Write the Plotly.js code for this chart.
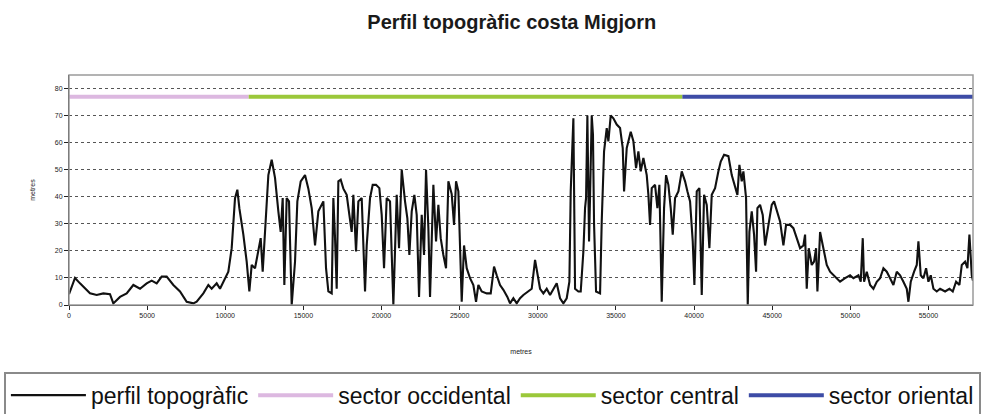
<!DOCTYPE html>
<html>
<head>
<meta charset="utf-8">
<script src="https://cdn.plot.ly/plotly-3.0.1.min.js"></script>
<style>html,body{margin:0;padding:0;background:#fff;}#chart{width:988px;height:414px;}</style>
</head>
<body>
<div id="chart"></div>
<script>
// Profile distance (m) and elevation (m)
const profileX = [0,384,704,1024,1344,1771,2197,2624,2837,3264,3691,4117,4544,4971,5291,5611,5931,6251,6677,7104,7531,7957,
8171,8597,8917,9131,9451,9664,9877,10197,10411,10624,10773,10901,11157,11371,11541,11691,11904,12117,12267,12395,12544,12757,12971,13184,13397,13547,13675,13781,13931,14080,14251,14464,14613,14827,15104,15317,15531,15744,15957,16277,16448,
16597,16811,16917,17024,17131,17237,17387,17557,17771,17941,18091,18197,18368,18517,18731,18944,19051,19264,19435,19648,19861,20011,20160,20331,20544,20757,20971,21120,21291,21504,21653,21781,21931,22101,22251,22400,22571,22720,22848,22997,23104,23317,23488,23637,23787,23957,24128,24277,24491,24640,24768,24917,25024,25131,25280,25451,
25664,25877,26048,26197,26411,26731,26987,27200,27371,27584,27797,28053,28224,28437,28651,28864,29077,29397,29611,29824,29973,30144,30357,30571,30784,30997,31211,31424,31637,31851,32021,32107,32277,32384,32597,32747,32917,33024,33088,33173,33280,33344,33451,33530,33600,33728,33984,34091,34240,34411,34517,34667,34837,35051,35264,35435,35520,35691,35947,36117,36288,36437,36587,36757,36971,37077,37184,37291,37504,37653,37781,37931,38080,38208,38357,38507,38635,38784,38997,39211,39424,39573,39744,39915,40021,40171,40341,40491,40640,40811,40981,41131,41344,41557,
41707,41920,42197,42411,42624,42773,42901,43051,43157,43328,43435,43541,43691,43840,43968,44053,44224,44395,44544,44757,44971,45120,45291,45504,45717,45888,46144,46357,46571,46784,46997,47104,47211,47339,47531,47680,47808,47893,48064,48277,48491,48704,48917,49131,
49344,49664,49984,50197,50517,50667,50795,50880,51051,51264,51477,51691,51904,52117,52331,52544,52757,52971,53184,53397,53611,53717,53867,54080,54251,54357,54507,54677,54848,54997,55147,55317,55531,55744,56064,56341,56555,56768,56981,57131,57344,57493,57621,57771,57850];
const profileY = [4,10,8,6,4.3,3.7,4.3,4,0.6,3,4.3,7.4,6,8,9,8,10.5,10.5,7.4,5,1.2,0.6,
1.2,4.3,7.4,6,8,6,8.6,12.3,21,39.5,42.6,35.8,26,16,5,14.8,13.6,21,24.7,12.3,27,48,53.7,47,34.6,27,39.5,7.4,39.5,38.3,0,16,38.3,45.7,48,43,35.8,22,34.6,38.3,13.6,
5,4.3,39.5,24.7,6,45.7,46.3,43,40.7,33.3,27,40.7,19.8,38.3,39.5,5,22,39.5,44.4,44.4,43.2,33.3,13.6,39.5,38.3,0,40.7,21,50,38.3,32,18.5,34.6,40.7,33.3,3,33.3,18.5,50,28.4,3,44.4,23.5,37,24.7,18.5,13.6,45.7,41,29.6,45.7,42,16,1.2,22,13.6,
9.9,7.4,1.2,7.4,5,4.3,4.3,14.2,11,7.4,5.6,3,0.6,2.5,0.6,2.5,3.7,5,6,16.7,11,6,4.3,6,3.7,6,8,2.5,0.6,2.5,8.6,42,69,6,5,5,19.8,35.8,39.5,70,23.5,40,70,63,30,5,4.3,30.9,56.8,65.4,60.5,70,69,66.7,65.4,58,42,58,64,60.5,50.6,56.8,49.4,54.3,48,40.7,29.6,43.2,44.4,35.8,44.4,1.2,35.8,48,44.4,35.8,26,39.5,42,49.4,45.7,42,38.3,23.5,7.4,42,43.2,3.7,40.7,37,21,40.7,43.2,49.4,
53,55.5,55,48,43.2,40.7,51.8,45.7,49.4,39.5,0,27,34.6,26,12.3,35.8,37,33.3,22,29.6,37,38.3,34.6,30.9,22,29.6,29.6,28.4,24.7,21,22,26,6,21,14.8,16,21,5,27,21,14.8,12.3,11,9.9,
8.6,9.9,11,9.9,11,8.6,24.7,8.6,12.3,7.4,6,8.6,9.9,13.6,12.3,9.9,7.4,12.3,11,8.6,6,1.2,8.6,12.3,14.8,23.5,11,9.9,13.6,8.6,11,6,5,6,5,6,5,8.6,7.4,14.8,16,13.6,26,11,9];

// Sector bands
const sectorNames = ['sector occidental','sector central','sector oriental'];
const sectorStart = [0, 11500, 39250];
const sectorEnd = [11500, 39250, 57850];
const sectorLevel = 77;
const sectorColors = ['#dcb8e0','#9bc83a','#3d4ca6'];

const xTicks = [0,5000,10000,15000,20000,25000,30000,35000,40000,45000,50000,55000];
const yTicks = [0,10,20,30,40,50,60,70,80];

const traces = [{
  x: profileX, y: profileY, type: 'scatter', mode: 'lines',
  name: 'perfil topogràfic', line: {color: '#111', width: 2.1}
}];
for (let i = 0; i < sectorNames.length; i++) {
  traces.push({
    x: [sectorStart[i], sectorEnd[i]], y: [sectorLevel, sectorLevel],
    type: 'scatter', mode: 'lines', name: sectorNames[i],
    line: {color: sectorColors[i], width: 4}
  });
}

const small = {family: 'Liberation Sans, Arial, sans-serif', size: 7, color: '#222'};
const layout = {
  width: 988, height: 414,
  margin: {l: 69, r: 15, t: 75, b: 109, autoexpand: false},
  paper_bgcolor: '#fff', plot_bgcolor: '#fff',
  title: {
    text: 'Perfil topogràfic costa Migjorn',
    font: {family: 'Liberation Sans, Arial, sans-serif', size: 20, color: '#1a1a1a', weight: 'bold'},
    xref: 'container', x: 0.518, xanchor: 'center',
    yref: 'container', y: 0.947, yanchor: 'middle'
  },
  xaxis: {
    range: [0, 57850], tickvals: xTicks, ticktext: xTicks.map(String), automargin: false,
    showgrid: false, zeroline: false, showline: true, linecolor: '#222', linewidth: 1,
    ticks: 'outside', ticklen: 4, tickcolor: '#222', tickfont: small,
    title: {text: 'metres', font: small, standoff: 30}
  },
  yaxis: {
    range: [0, 85], tickvals: yTicks, ticktext: yTicks.map(String), automargin: false,
    showgrid: true, gridcolor: '#555', griddash: 'dot', gridwidth: 1,
    zeroline: false, showline: true, linecolor: '#222', linewidth: 1,
    ticks: 'outside', ticklen: 4, tickcolor: '#222', tickfont: small,
    title: {text: 'metres', font: small, standoff: 18}
  },
  shapes: [{type: 'rect', xref: 'paper', yref: 'paper', x0: 0, x1: 1, y0: 0, y1: 1,
            line: {color: '#9a9a9a', width: 1.5}}],
  showlegend: true,
  legend: {
    orientation: 'h', x: -0.072, xanchor: 'left', y: -0.29, yanchor: 'top',
    font: {family: 'Liberation Sans, Arial, sans-serif', size: 23, color: '#111'},
    bgcolor: '#fff', bordercolor: '#8a8a8a', borderwidth: 2,
    itemwidth: 75, tracegroupgap: 0
  }
};

Plotly.newPlot('chart', traces, layout, {staticPlot: true, displayModeBar: false});
</script>
</body>
</html>
